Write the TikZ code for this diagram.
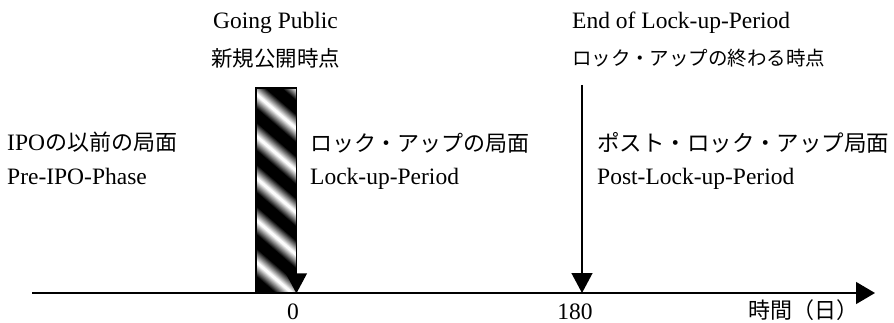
\documentclass[tikz,border=0pt]{standalone}
\usepackage{fontspec}
\setmainfont{Liberation Serif}
\newfontfamily\jpfont{Noto Sans CJK JP}
\usetikzlibrary{arrows.meta}
\begin{document}
\begin{tikzpicture}[x=1pt,y=-1pt,
  lat/.style={anchor=base west, inner sep=0pt, font=\fontsize{23.5}{28}\selectfont},
  jp/.style={anchor=base west, inner sep=0pt, font=\jpfont\fontsize{#1}{#1}\selectfont},
  jp/.default=22,
  ln/.style={line width=1.4pt},
  tri/.style={-{Triangle[width=21pt,length=20pt]}},
  barbox/.style={draw=none, minimum width=40pt, minimum height=205pt, inner sep=0pt, anchor=north west}]
\useasboundingbox (0,0) rectangle (894,323);

% hatched bar
\node[barbox] (bar) at (256,88) {};
\begin{scope}
  \clip (bar.north west) rectangle (bar.south east);
  \fill[black] (bar.north west) rectangle (bar.south east);
  \foreach \k in {-3,...,6}{
    \foreach \i in {0,...,11}{
      \pgfmathsetmacro\w{22-1.75*\i}
      \pgfmathtruncatemacro\c{9*\i}
      \draw[line width=\w pt, white!\c!black] (226,68+\k*42) -- ++(110,95);
    }
  }
\end{scope}
\draw[line width=1.2pt] (bar.north west) rectangle (bar.south east);

% arrows
\draw[ln, tri] (bar.north east) -- (bar.south east);
\coordinate (e180top) at (582,85);
\coordinate (e180) at (582,293);
\draw[ln, tri] (e180top) -- (e180);
\coordinate (ax0) at (32,293);
\coordinate (ax1) at (875,293);
\draw[ln, -{Triangle[width=22pt,length=19pt]}] (ax0) -- (ax1);

% axis labels
\node[lat, anchor=base, text depth=0pt] (l0) at (293,319) {0};
\node[lat, anchor=base, text depth=0pt] (l180) at (575,319) {180};
\node[jp, text depth=0pt] (time) at (748,318) {時間（日）};

% top texts
\node[lat] (gp) at (213,29) {Going Public};
\node[jp=21.5] (gpj) at (211,67) {新規公開時点};
\node[lat] (eol) at (572,29) {End of Lock-up-Period};
\node[jp=19.5] (eolj) at (572,66) {ロック・アップの終わる時点};

% phase texts
\node[lat] (prej) at (7,151) {IPO{\jpfont\fontsize{22}{22}\selectfont の以前の局面}};
\node[lat] (pre) at (7,185) {Pre-IPO-Phase};
\node[jp] (luj) at (310,152) {ロック・アップの局面};
\node[lat] (lu) at (310,185) {Lock-up-Period};
\node[jp=22.5] (plj) at (597,152) {ポスト・ロック・アップ局面};
\node[lat] (pl) at (597,185) {Post-Lock-up-Period};
\end{tikzpicture}
\end{document}
